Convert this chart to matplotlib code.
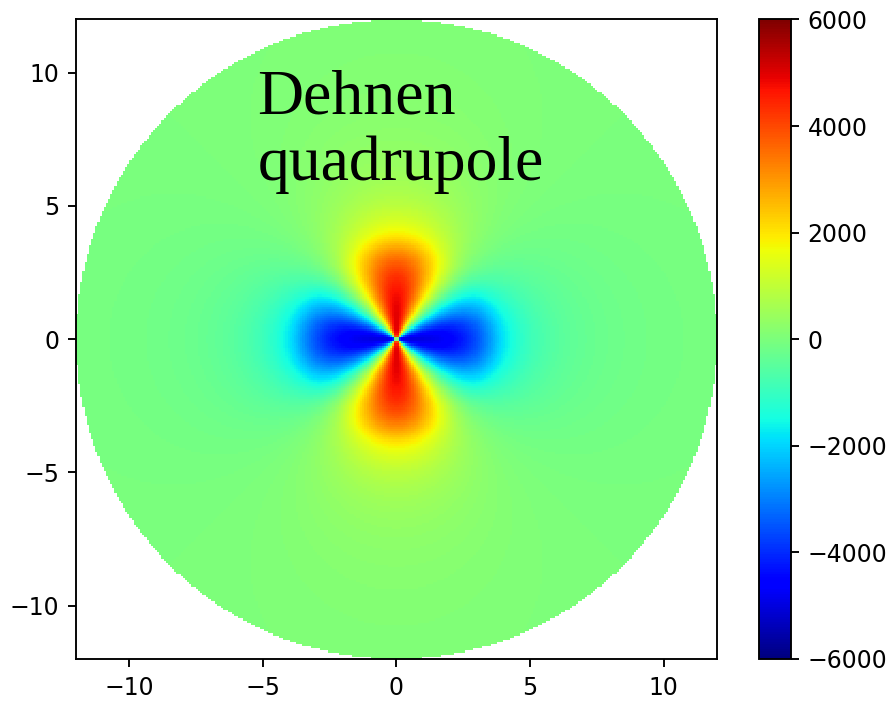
"""Dehnen quadrupole (bar) potential on a disc, jet colour map.

    Phi = A cos(2 phi) * ((R/Rb)^3 - 2)   for R <  Rb
    Phi = A cos(2 phi) * (-(Rb/R)^3)      for R >= Rb

    python plot.py   -> out.png
"""
import matplotlib
matplotlib.use("Agg")
import matplotlib.pyplot as plt
import numpy as np

# model parameters
AMPLITUDE = 2500.0      # |Phi| at the centre is 2A
BAR_RADIUS = 3.6        # kink of the Dehnen profile
DISK_RADIUS = 12.0
GRID_N = 300

VMIN, VMAX = -6000, 6000
AXIS_TICKS = [-10, -5, 0, 5, 10]
CBAR_TICKS = [-6000, -4000, -2000, 0, 2000, 4000, 6000]
LABEL = "Dehnen\nquadrupole"


def dehnen_quadrupole(x, y):
    r = np.hypot(x, y)
    phi = np.arctan2(y, x)
    with np.errstate(divide="ignore"):
        shape = np.where(r < BAR_RADIUS, (r / BAR_RADIUS) ** 3 - 2,
                         -(BAR_RADIUS / np.maximum(r, 1e-9)) ** 3)
    val = AMPLITUDE * np.cos(2 * phi) * shape
    return np.where(r <= DISK_RADIUS, val, np.nan)


def main():
    edges = np.linspace(-DISK_RADIUS, DISK_RADIUS, GRID_N + 1)
    mid = 0.5 * (edges[1:] + edges[:-1])
    xx, yy = np.meshgrid(mid, mid)
    z = np.ma.masked_invalid(dehnen_quadrupole(xx, yy))

    fig = plt.figure(figsize=(892 / 170, 703 / 170), dpi=170)
    ax = fig.add_axes([0.0852, 0.0626, 0.7186, 0.9097])
    cax = fig.add_axes([0.8509, 0.0626, 0.0359, 0.9097])

    pc = ax.pcolormesh(edges, edges, z, cmap="jet", vmin=VMIN, vmax=VMAX,
                       shading="flat", rasterized=True)
    ax.set_xlim(-DISK_RADIUS, DISK_RADIUS)
    ax.set_ylim(-DISK_RADIUS, DISK_RADIUS)
    ax.set_xticks(AXIS_TICKS); ax.set_yticks(AXIS_TICKS)
    ax.text(-5.2, 10.12, LABEL, family=["Liberation Serif", "DejaVu Serif"],
            fontsize=27, ha="left", va="top", linespacing=1.18)

    cb = fig.colorbar(pc, cax=cax, ticks=CBAR_TICKS)
    cb.ax.tick_params(labelsize=10)

    fig.savefig("out.png", dpi=170)


if __name__ == "__main__":
    main()
